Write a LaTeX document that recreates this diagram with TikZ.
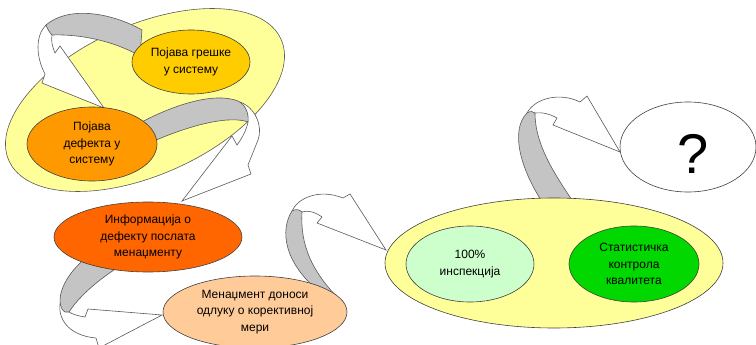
\documentclass[tikz,border=0pt]{standalone}
\usepackage{fontspec}
\setmainfont{Liberation Sans}
\usetikzlibrary{shapes.geometric}
\definecolor{paleyellow}{HTML}{FFFF99}
\definecolor{gold}{HTML}{FFCC00}
\definecolor{orangeA}{HTML}{FF9900}
\definecolor{orangeB}{HTML}{FF6600}
\definecolor{peach}{HTML}{FFCC99}
\definecolor{mint}{HTML}{CCFFCC}
\definecolor{green}{HTML}{00D800}
\definecolor{bandgray}{HTML}{C4C4C4}
\begin{document}
\begin{tikzpicture}[x=1pt,y=-1pt,
  bubble/.style={ellipse, draw=black!75, line width=0.6pt, inner sep=0pt, align=center,
    font=\fontsize{12}{16.5}\selectfont},
  band/.style={fill=bandgray, draw=black!65, line width=0.6pt, line join=round},
  warrow/.style={fill=white, draw=black!65, line width=0.6pt, line join=miter}]
\useasboundingbox (0,0) rectangle (756,345);

% big tilted yellow ellipse (top left)
\node[ellipse, draw=black!65, line width=0.6pt, fill=paleyellow,
      minimum width=298pt, minimum height=150pt, rotate=24] (ga) at (145,100) {};

% ---- arrow 1: from "Pojava greske" to "Pojava defekta"
\coordinate (t1) at (104,108);
\draw[warrow] (46,25) .. controls (35,36) and (36,57) .. (45,74) -- (42,83) -- (t1)
  -- (60,46) -- (55,53) .. controls (52,46) and (51,40) .. (52,35) -- cycle;
\draw[band] (142,30) .. controls (110,12) and (68,6) .. (46,25)
  .. controls (48,30) and (50,33) .. (52,35)
  .. controls (78,34) and (112,40) .. (140,56) -- cycle;

% ---- arrow 2: from "Pojava defekta" to "Informacija"
\coordinate (t2) at (182,201);
\draw[warrow] (240,102) .. controls (256,108) and (263,127) .. (258,140) -- (248,165) -- (251,174) -- (t2)
  -- (232,136) -- (237,145) .. controls (243,137) and (247,128) .. (248,122) -- cycle;
\draw[band] (140,123) .. controls (175,104) and (215,92) .. (238,101)
  .. controls (246,105) and (249,114) .. (248,122)
  .. controls (232,116) and (195,122) .. (145,145) -- cycle;

% ---- arrow 3: from "Informacija" to "Menadzment"
\coordinate (t3) at (162,315);
\draw[warrow] (60,304) .. controls (58,322) and (72,336) .. (96,338) -- (99,348) -- (t3)
  -- (88,309) -- (85,317) .. controls (78,316) and (72,314) .. (69,312) -- cycle;
\draw[band] (86,258) .. controls (68,272) and (55,295) .. (62,309)
  .. controls (64,312) and (66,313) .. (69,312)
  .. controls (78,298) and (95,282) .. (120,266) -- cycle;

% ---- arrow 4: from "Menadzment" to big right ellipse
\coordinate (t4) at (386,250);
\draw[warrow] (292,211) .. controls (297,199) and (318,188) .. (343,198) -- (350,194) -- (t4)
  -- (317,223) -- (322,217) .. controls (315,212) and (308,210) .. (302,212) -- cycle;
\draw[band] (292,211) .. controls (280,230) and (283,263) .. (322,294)
  -- (340,300) .. controls (312,272) and (300,245) .. (302,212)
  .. controls (299,209) and (295,209) .. (292,211) -- cycle;

% ---- arrow 5: from big right ellipse to "?"
\coordinate (t5) at (620,152);
\draw[warrow] (527,113) .. controls (535,98) and (560,92) .. (580,102) -- (587,96) -- (t5)
  -- (553,125) -- (557,118) .. controls (550,114) and (542,112) .. (535,113) -- cycle;
\draw[band] (545,206) .. controls (520,170) and (510,130) .. (527,113)
  .. controls (530,111) and (533,111) .. (535,113)
  .. controls (535,145) and (555,175) .. (576,206) -- cycle;

% ---- ellipses
\node[bubble, fill=gold, minimum width=118pt, minimum height=64pt] (g) at (191,62)
  {Појава грешке\\у систему};
\node[bubble, fill=orangeA, minimum width=130pt, minimum height=74pt] (d) at (92,144)
  {Појава\\дефекта у\\систему};
\node[bubble, fill=orangeB, minimum width=188pt, minimum height=70pt] (i) at (148,237)
  {Информација о\\дефекту послата\\менаџменту};
\node[bubble, fill=peach, minimum width=184pt, minimum height=72pt] (m) at (255,312)
  {Менаџмент доноси\\одлуку о корективној\\мери};
\node[ellipse, draw=black!75, line width=0.6pt, fill=paleyellow,
      minimum width=338pt, minimum height=130pt] (Y) at (554,263) {};
\node[bubble, fill=mint, minimum width=128pt, minimum height=76pt] (p) at (470,264)
  {100\%\\инспекција};
\node[bubble, fill=green, minimum width=130pt, minimum height=76pt] (s) at (634,264)
  {Статистичка\\контрола\\квалитета};
\node[bubble, fill=white, minimum width=136pt, minimum height=90pt] (q) at (688,147) {};
\node[font=\fontsize{56}{60}\selectfont, inner sep=0pt] (qm) at (693,154) {?};
\end{tikzpicture}
\end{document}
